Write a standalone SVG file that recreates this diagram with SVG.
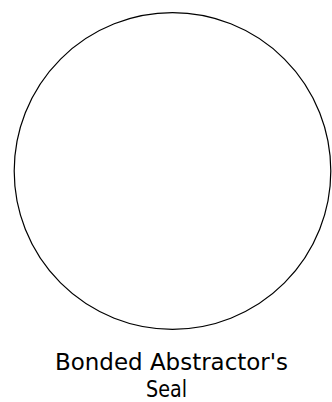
<svg xmlns="http://www.w3.org/2000/svg" width="332" height="402" viewBox="0 0 332 402">
<style>
.seal{fill:none;stroke:#000;stroke-width:1.2}
.lbl{font-family:"DejaVu Sans Condensed","DejaVu Sans","Liberation Sans",sans-serif;font-size:23.5px;font-weight:200;fill:#000;text-anchor:middle}
</style>
<rect width="332" height="402" fill="#fff"/>
<g id="seal">
<circle class="seal" cx="172.5" cy="171" r="158.3"/>
</g>
<g id="label">
<text class="lbl" x="171.5" y="369.5" textLength="233" lengthAdjust="spacingAndGlyphs">Bonded Abstractor's</text>
<text class="lbl" x="166.5" y="397" textLength="41" lengthAdjust="spacingAndGlyphs">Seal</text>
</g>
<g id="connectors"/>
</svg>
